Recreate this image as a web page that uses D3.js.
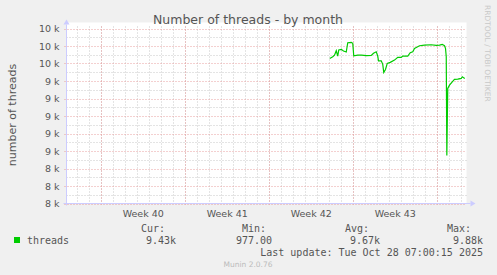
<!DOCTYPE html>
<html>
<head>
<meta charset="utf-8">
<script src="https://cdn.jsdelivr.net/npm/d3@7"></script>
<style>
    body { margin: 0; background: #f0f0f0; }
    svg { display: block; }
    text { fill: #555; font-family: "DejaVu Sans", sans-serif; }
    .mono { font-family: "DejaVu Sans Mono", monospace; font-size: 10px; }
</style>
</head>
<body>
<svg width="497" height="275"></svg>
<script>
// Data (UTC times, threads)
var times = [
    "2025-10-17 01:00", "2025-10-17 07:00", "2025-10-17 10:30", "2025-10-17 14:00",
    "2025-10-17 17:00", "2025-10-17 19:00", "2025-10-18 00:00", "2025-10-18 04:30",
    "2025-10-18 10:00", "2025-10-18 13:00", "2025-10-18 20:00", "2025-10-18 23:00",
    "2025-10-19 01:00", "2025-10-19 09:00", "2025-10-19 16:30", "2025-10-20 02:00",
    "2025-10-20 12:00", "2025-10-20 16:30", "2025-10-20 22:00", "2025-10-21 01:00",
    "2025-10-21 02:30", "2025-10-21 08:00", "2025-10-21 11:00", "2025-10-21 13:00",
    "2025-10-21 16:30", "2025-10-21 20:00", "2025-10-22 02:00", "2025-10-22 10:30",
    "2025-10-22 17:00", "2025-10-23 00:00", "2025-10-23 03:00", "2025-10-23 13:00",
    "2025-10-23 18:00", "2025-10-23 23:00", "2025-10-24 02:30", "2025-10-24 07:00",
    "2025-10-24 12:30", "2025-10-24 22:30", "2025-10-25 12:00", "2025-10-25 22:00",
    "2025-10-26 04:30", "2025-10-26 10:00", "2025-10-26 14:30", "2025-10-26 16:30",
    "2025-10-26 18:00", "2025-10-26 19:10", "2025-10-26 21:00", "2025-10-27 00:30",
    "2025-10-27 06:00", "2025-10-27 10:30", "2025-10-27 17:00", "2025-10-28 00:00",
    "2025-10-28 02:00", "2025-10-28 07:00"
];
var threads = [
    9658, 9677, 9696, 9746,
    9685, 9754, 9762, 9742,
    9731, 9837, 9842, 9830,
    9688, 9695, 9696, 9690,
    9692, 9716, 9734, 9685,
    9631, 9631, 9590, 9498,
    9532, 9601, 9613, 9639,
    9670, 9670, 9685, 9685,
    9723, 9734, 9773, 9785,
    9803, 9811, 9814, 9807,
    9811, 9819, 9803, 9773,
    9677, 8550, 9315, 9352,
    9390, 9418, 9421, 9429,
    9448, 9429
];
var weekStarts = ["2025-09-28 00:00", "2025-10-05 00:00", "2025-10-12 00:00", "2025-10-19 00:00", "2025-10-26 00:00"];
var weekLabels = ["Week 40", "Week 41", "Week 42", "Week 43"];
var timeRange = ["2025-09-25 02:30", "2025-10-28 10:30"];
var yTicks = [8000, 8200, 8400, 8600, 8800, 9000, 9200, 9400, 9600, 9800, 10000];
var yMinor = [8100, 8300, 8500, 8700, 8900, 9100, 9300, 9500, 9700, 9900];
var legendHeads = ["Cur:", "Min:", "Avg:", "Max:"];
var legendValues = ["9.43k", "977.00", "9.67k", "9.88k"];

var parse = d3.utcParse("%Y-%m-%d %H:%M");
var data = times.map(function (t, i) { return { t: parse(t), v: threads[i] }; });

var svg = d3.select("svg");
var plotLeft = 66.5, plotRight = 466.5, plotTop = 28.5, plotBottom = 203.5;

var x = d3.scaleUtc().domain(timeRange.map(parse)).range([plotLeft, plotRight]);
var y = d3.scaleLinear().domain([8000, 10000]).range([plotBottom, plotTop]);

// Plot background
svg.append("rect")
    .attr("x", plotLeft).attr("y", plotTop - 6)
    .attr("width", plotRight - plotLeft).attr("height", plotBottom - plotTop + 6)
    .attr("fill", "#fff");

// Minor grid
var days = d3.utcDay.range(x.domain()[0], x.domain()[1]);
svg.append("g").selectAll("line").data(days).join("line")
    .attr("x1", function (d) { return Math.round(x(d)) + 0.5; })
    .attr("x2", function (d) { return Math.round(x(d)) + 0.5; })
    .attr("y1", plotTop - 2).attr("y2", plotBottom)
    .attr("stroke", "#c8c8c8").attr("stroke-dasharray", "1,2");
svg.append("g").selectAll("line").data(yMinor).join("line")
    .attr("x1", plotLeft).attr("x2", plotRight)
    .attr("y1", function (d) { return Math.round(y(d)) + 0.5; })
    .attr("y2", function (d) { return Math.round(y(d)) + 0.5; })
    .attr("stroke", "#c8c8c8").attr("stroke-dasharray", "1,2");

// Major grid
svg.append("g").selectAll("line").data(weekStarts.map(parse)).join("line")
    .attr("x1", function (d) { return Math.round(x(d)) + 0.5; })
    .attr("x2", function (d) { return Math.round(x(d)) + 0.5; })
    .attr("y1", plotTop - 2).attr("y2", plotBottom + 2)
    .attr("stroke", "#e8a0a0").attr("stroke-dasharray", "1,2");
svg.append("g").selectAll("line").data(yTicks).join("line")
    .attr("x1", plotLeft - 2).attr("x2", plotRight)
    .attr("y1", function (d) { return Math.round(y(d)) + 0.5; })
    .attr("y2", function (d) { return Math.round(y(d)) + 0.5; })
    .attr("stroke", "#e8a0a0").attr("stroke-dasharray", "1,2");

// Y tick labels
svg.append("g").selectAll("text").data(yTicks).join("text")
    .attr("x", 59.5)
    .attr("y", function (d) { return y(d) + 3.5; })
    .attr("text-anchor", "end")
    .style("font-size", "9.5px")
    .text(function (d) { return d3.format(".0f")(d / 1000) + " k"; });

// Week labels, centred mid-week
svg.append("g").selectAll("text").data(weekLabels).join("text")
    .attr("x", function (d, i) { return x(d3.utcHour.offset(parse(weekStarts[i]), 84)); })
    .attr("y", 216.5)
    .attr("text-anchor", "middle")
    .style("font-size", "9.5px")
    .text(function (d) { return d; });

// Axes
svg.append("line").attr("x1", plotLeft).attr("x2", plotLeft).attr("y1", plotBottom + 2).attr("y2", plotTop - 4)
    .attr("stroke", "#ccccff");
svg.append("path").attr("d", "M" + (plotLeft - 3) + "," + (plotTop - 4) + "L" + (plotLeft + 3) + "," + (plotTop - 4) + "L" + plotLeft + "," + (plotTop - 9) + "Z")
    .attr("fill", "#ccccff");
svg.append("line").attr("x1", plotLeft - 3).attr("x2", plotRight + 4).attr("y1", plotBottom).attr("y2", plotBottom)
    .attr("stroke", "#ccccff");
svg.append("path").attr("d", "M" + (plotRight + 4) + "," + (plotBottom - 3) + "L" + (plotRight + 4) + "," + (plotBottom + 3) + "L" + (plotRight + 9) + "," + plotBottom + "Z")
    .attr("fill", "#ccccff");

// Series
svg.append("path")
    .datum(data)
    .attr("fill", "none")
    .attr("stroke", "#00cc00")
    .attr("stroke-width", 1.2)
    .attr("d", d3.line()
        .x(function (d) { return x(d.t); })
        .y(function (d) { return y(d.v); }));

// Title and labels
svg.append("text")
    .attr("x", 248).attr("y", 23.5)
    .attr("text-anchor", "middle")
    .style("font-size", "12.5px")
    .text("Number of threads - by month");

svg.append("text")
    .attr("transform", "translate(15.5,115) rotate(-90)")
    .attr("text-anchor", "middle")
    .style("font-size", "11px")
    .text("number of threads");

svg.append("text")
    .attr("transform", "translate(485,5) rotate(90)")
    .attr("text-anchor", "start")
    .style("font-size", "7.5px")
    .style("fill", "#c8c8c8")
    .text("RRDTOOL / TOBI OETIKER");

// Legend
var headX = [141, 242, 345, 447];
var valX = [176, 272, 380, 483];
svg.append("g").selectAll("text").data(legendHeads).join("text")
    .attr("class", "mono")
    .attr("x", function (d, i) { return headX[i]; })
    .attr("y", 231.5)
    .text(function (d) { return d; });
svg.append("g").selectAll("text").data(legendValues).join("text")
    .attr("class", "mono")
    .attr("x", function (d, i) { return valX[i]; })
    .attr("y", 243.5)
    .attr("text-anchor", "end")
    .text(function (d) { return d; });
svg.append("rect")
    .attr("x", 14).attr("y", 237).attr("width", 6).attr("height", 6)
    .attr("fill", "#00cc00");
svg.append("text").attr("class", "mono")
    .attr("x", 27).attr("y", 243.5)
    .text("threads");
svg.append("text").attr("class", "mono")
    .attr("x", 483).attr("y", 255.5)
    .attr("text-anchor", "end")
    .text("Last update: Tue Oct 28 07:00:15 2025");
svg.append("text")
    .attr("x", 248).attr("y", 267)
    .attr("text-anchor", "middle")
    .style("font-size", "7.5px")
    .style("fill", "#bbbbbb")
    .text("Munin 2.0.76");
</script>
</body>
</html>
